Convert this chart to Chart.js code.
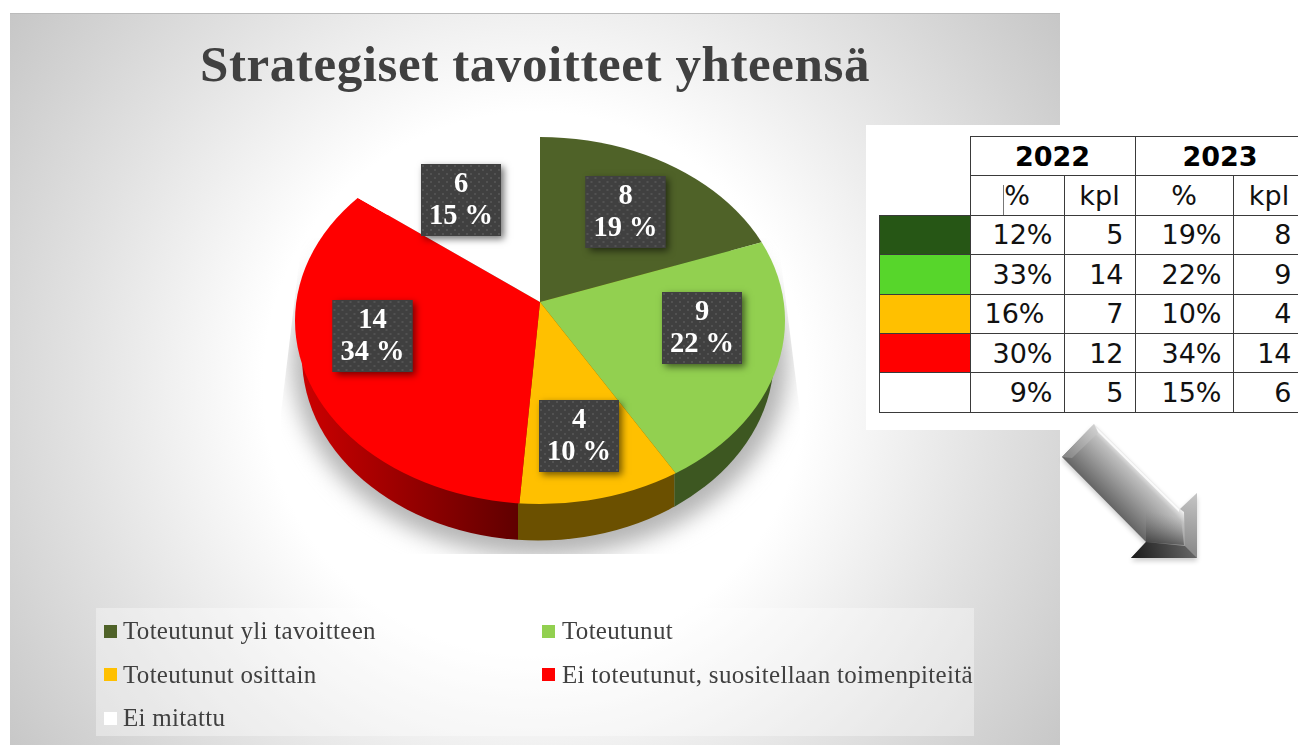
<!DOCTYPE html>
<html lang="fi">
<head>
<meta charset="utf-8">
<title>Strategiset tavoitteet yhteensä</title>
<script src="https://cdn.jsdelivr.net/npm/chart.js@4"></script>
<style>
html,body{margin:0;padding:0;background:#fff;width:1298px;height:745px;overflow:hidden}
#panel{position:absolute;left:10px;top:13px;width:1050px;height:732px;border-top:1px solid #bbb;box-sizing:border-box;
background:radial-gradient(circle 715px at 525px 370px,#fff 0%,#fff 38%,#e2e2e2 64%,#bcbcbc 100%)}
#pie{position:absolute;left:10px;top:13px;display:block}
#legend{position:absolute;left:96px;top:608px;width:878px;height:128px;background:rgba(255,255,255,.36);
font-family:"Liberation Serif",serif;font-size:25px;color:#404040}
.li{position:absolute;white-space:nowrap;line-height:28px;letter-spacing:.3px}
.sw{position:absolute;width:13px;height:13px}
#tblbox{position:absolute;left:866px;top:125px;width:432px;height:305px;background:#fff;overflow:hidden}
#tbl{position:absolute;left:12.5px;top:11px;border-collapse:collapse;table-layout:fixed;width:426px;
font-family:"DejaVu Sans",sans-serif;font-size:27px;color:#111}
#tbl td{border:1.5px solid #3a3a3a;padding:0;text-align:right;height:39.4px;box-sizing:border-box;overflow:hidden;white-space:nowrap}
#tbl td.n{border:none}
#tbl td.year{font-weight:bold;text-align:center;font-size:27px;color:#000}
#tbl td.unit{text-align:center}
#tbl td.v{padding-right:11px}
#tbl td.k{padding-right:11px}
#cursor{position:absolute;left:137px;top:60px;width:1px;height:30px;background:#777}
#arrow{position:absolute;left:1050px;top:415px}
</style>
</head>
<body>
<div id="panel"></div>
<canvas id="pie" width="1050" height="732"></canvas>
<div id="legend"></div>
<div id="tblbox"><table id="tbl"><colgroup><col style="width:91px"><col style="width:94px"><col style="width:71px"><col style="width:98px"><col style="width:72px"></colgroup><tbody id="tb"></tbody></table><div id="cursor"></div></div>
<svg id="arrow" width="170" height="165" viewBox="1050 415 170 165">
<defs>
<linearGradient id="body" gradientUnits="userSpaceOnUse" x1="1137" y1="465" x2="1104" y2="498">
<stop offset="0" stop-color="#f2f2f2"/><stop offset=".18" stop-color="#c0c0c0"/><stop offset=".6" stop-color="#939393"/><stop offset="1" stop-color="#676767"/></linearGradient>
<linearGradient id="endcap" gradientUnits="userSpaceOnUse" x1="1096" y1="428" x2="1068" y2="456">
<stop offset="0" stop-color="#cfcfcf"/><stop offset="1" stop-color="#8a8a8a"/></linearGradient>
<linearGradient id="headB" gradientUnits="userSpaceOnUse" x1="1135" y1="556" x2="1195" y2="540">
<stop offset="0" stop-color="#1e1e1e"/><stop offset="1" stop-color="#6a6a6a"/></linearGradient>
<linearGradient id="headM" gradientUnits="userSpaceOnUse" x1="1168" y1="515" x2="1160" y2="548">
<stop offset="0" stop-color="#8f8f8f" stop-opacity="0"/><stop offset="1" stop-color="#3e3e3e"/></linearGradient>
<linearGradient id="headR" gradientUnits="userSpaceOnUse" x1="1197" y1="495" x2="1186" y2="550">
<stop offset="0" stop-color="#c4c4c4"/><stop offset="1" stop-color="#8c8c8c"/></linearGradient>
<filter id="ash" x="-20%" y="-20%" width="140%" height="140%"><feGaussianBlur stdDeviation="2.5"/></filter>
</defs>
<polygon points="1094,427 1062,460 1146,545 1131,561 1197,561 1197,496 1180,512" fill="#000" opacity=".2" filter="url(#ash)"/>
<polygon points="1094,424 1062,457 1146,542 1131,558 1197,558 1197,493 1180,509" fill="url(#body)"/>
<polygon points="1094,424 1062,457 1072,458 1098,433" fill="url(#endcap)"/>
<polygon points="1096,427 1179,509 1179,512 1098,432" fill="#fdfdfd" opacity=".9"/>
<polygon points="1146,542 1184,545 1180,509 1146,510" fill="url(#headM)"/>
<polygon points="1197,493 1197,558 1185,546 1184,512 1180,509" fill="url(#headR)"/>
<polygon points="1131,558 1197,558 1185,546 1146,542" fill="url(#headB)"/>
</svg>
<script>
const categories = ["Toteutunut yli tavoitteen", "Toteutunut", "Toteutunut osittain", "Ei toteutunut, suositellaan toimenpiteitä", "Ei mitattu"];
const counts2023 = [8, 9, 4, 14, 6];
const percent2023 = [19, 22, 10, 34, 15];
const sliceColors = ["#4f6228", "#92d050", "#ffc000", "#ff0000", "#ffffff"];

const tableYears = ["2022", "2023"];
const tableUnits = ["%", "kpl"];
const tableSwatches = ["#265615", "#57d62b", "#ffc000", "#ff0000", "#ffffff"];
const table2022Pct = ["12%", "33%", "16%", "30%", "9%"];
const table2022Kpl = [5, 14, 7, 12, 5];
const table2023Pct = ["19%", "22%", "10%", "34%", "15%"];
const table2023Kpl = [8, 9, 4, 14, 6];

/* page-layout constants (canvas pixels) */
const APEX = {x: 530, y: 289};
const RIM = {cx: 530, cy: 307.5, rx: 245, ry: 183.5};
const WALL = {cx: 528, cy: 343.5, rx: 236, ry: 184};
const TILT = 0.75;
const LABEL_OFFSET = [[85.5, -90], [162, 26], [39, 134], [-167.5, 34], [-79, -102]];

/* table and legend, built from the arrays */
const tb = document.getElementById("tb");
let h = '<tr><td class="n"></td>' + tableYears.map(y => `<td class="year" colspan="2">${y}</td>`).join("") + "</tr>";
h += '<tr><td class="n"></td>' + tableYears.map(() => tableUnits.map(u => `<td class="unit">${u}</td>`).join("")).join("") + "</tr>";
tableSwatches.forEach((c, i) => {
  const shift = table2022Pct[i] === "16%" ? "padding-right:19px" : "";
  h += `<tr><td style="background:${c}"></td><td class="v" style="${shift}">${table2022Pct[i]}</td><td class="k">${table2022Kpl[i]}</td><td class="v">${table2023Pct[i]}</td><td class="k" style="text-align:right;padding-right:13px">${table2023Kpl[i]}</td></tr>`;
});
tb.innerHTML = h;

const leg = document.getElementById("legend");
categories.forEach((name, i) => {
  const col = i % 2, row = Math.floor(i / 2);
  const sx = col ? 446 : 8, tx = col ? 466 : 27, cy = 23 + row * 43.5;
  leg.insertAdjacentHTML("beforeend",
    `<span class="sw" style="left:${sx}px;top:${cy - 6.5}px;background:${sliceColors[i]}"></span><span class="li" style="left:${tx}px;top:${cy - 14}px">${name}</span>`);
});

/* helpers */
function rimX(angle) {
  const c = Math.cos(angle), s = TILT * Math.sin(angle), d = APEX.y - RIM.cy;
  const A = c * c / (RIM.rx * RIM.rx) + s * s / (RIM.ry * RIM.ry);
  const B = 2 * s * d / (RIM.ry * RIM.ry);
  const C = d * d / (RIM.ry * RIM.ry) - 1;
  const t = (-B + Math.sqrt(B * B - 4 * A * C)) / (2 * A);
  return APEX.x + t * c;
}
function shade(hex, f) {
  const n = parseInt(hex.slice(1), 16);
  return `rgb(${(n >> 16 & 255) * f | 0},${(n >> 8 & 255) * f | 0},${(n & 255) * f | 0})`;
}
function dotPattern(ctx) {
  const p = document.createElement("canvas");
  p.width = 8; p.height = 8;
  const g = p.getContext("2d");
  g.fillStyle = "#404040"; g.fillRect(0, 0, 8, 8);
  g.fillStyle = "#525252";
  g.fillRect(1, 1, 2, 2); g.fillRect(5, 5, 2, 2);
  return ctx.createPattern(p, "repeat");
}

const pie3d = {
  id: "pie3d",
  beforeDraw(chart) { chart.ctx.letterSpacing = "0.6px"; },
  beforeDatasetsDraw(chart) {
    const ctx = chart.ctx, arcs = chart.getDatasetMeta(0).data;
    ctx.letterSpacing = "0px";
    /* soft shadow under the pie */
    ctx.save();
    ctx.beginPath();
    ctx.moveTo(292, 225); ctx.lineTo(768, 225); ctx.lineTo(790, 400); ctx.lineTo(790, 541);
    ctx.lineTo(271, 541); ctx.lineTo(271, 400);
    ctx.closePath(); ctx.clip();
    ctx.filter = "blur(11px)";
    ctx.fillStyle = "#b4b4b4";
    ctx.beginPath();
    ctx.ellipse(WALL.cx + 2, WALL.cy + 4, WALL.rx + 12, WALL.ry + 12, 0, 0, 2 * Math.PI);
    ctx.fill();
    ctx.filter = "none";
    ctx.restore();
    /* side wall, one piece per lower slice */
    arcs.forEach((arc, i) => {
      const s = Math.max(arc.startAngle, 0), e = Math.min(arc.endAngle, Math.PI);
      if (e <= s) return;
      const xR = s === 0 ? 2000 : rimX(s) - 1.5;
      const xL = e === Math.PI ? -2000 : rimX(e) - 1.5;
      ctx.save();
      ctx.beginPath(); ctx.rect(xL, 0, xR - xL, 732); ctx.clip();
      if (xL < 0) {
        const g = ctx.createLinearGradient(WALL.cx - WALL.rx, 0, xR, 0);
        g.addColorStop(0, shade(sliceColors[i], .8));
        g.addColorStop(1, shade(sliceColors[i], .38));
        ctx.fillStyle = g;
      } else ctx.fillStyle = shade(sliceColors[i], .42);
      ctx.beginPath();
      ctx.ellipse(WALL.cx, WALL.cy, WALL.rx, WALL.ry, 0, 0, 2 * Math.PI);
      ctx.fill();
      ctx.restore();
    });
  },
  beforeDatasetDraw(chart) {
    const ctx = chart.ctx, a = chart.getDatasetMeta(0).data[0];
    ctx.save();
    ctx.beginPath();
    ctx.ellipse(RIM.cx, RIM.cy, RIM.rx, RIM.ry, 0, 0, 2 * Math.PI);
    ctx.clip();
    ctx.translate(APEX.x, APEX.y);
    ctx.scale(1, TILT);
    ctx.translate(-a.x, -a.y);
  },
  afterDatasetDraw(chart) { chart.ctx.restore(); },
  afterDatasetsDraw(chart) {
    const ctx = chart.ctx, pat = dotPattern(ctx);
    const vals = chart.data.datasets[0].data;
    vals.forEach((v, i) => {
      const cx = APEX.x + LABEL_OFFSET[i][0], cy = APEX.y + LABEL_OFFSET[i][1];
      const w = 80, hh = 72;
      ctx.save();
      ctx.shadowColor = "rgba(0,0,0,.55)";
      ctx.shadowBlur = 7; ctx.shadowOffsetX = 3; ctx.shadowOffsetY = 3;
      ctx.fillStyle = "#404040";
      ctx.fillRect(cx - w / 2, cy - hh / 2, w, hh);
      ctx.restore();
      ctx.save();
      ctx.translate(cx - w / 2, cy - hh / 2);
      ctx.fillStyle = pat;
      ctx.fillRect(0, 0, w, hh);
      ctx.fillStyle = "#fff";
      ctx.textAlign = "center"; ctx.textBaseline = "middle";
      ctx.font = 'bold 28.5px "Liberation Serif", serif';
      ctx.fillText(String(v), w / 2, 21);
      ctx.fillText(percent2023[i] + " %", w / 2, 53);
      ctx.restore();
    });
  }
};

new Chart(document.getElementById("pie"), {
  type: "pie",
  data: {
    labels: categories,
    datasets: [{data: counts2023, backgroundColor: sliceColors, borderWidth: 0}]
  },
  options: {
    responsive: false,
    animation: false,
    events: [],
    rotation: 0,
    layout: {padding: 0},
    plugins: {
      legend: {display: false},
      tooltip: {enabled: false},
      title: {
        display: true,
        text: "Strategiset tavoitteet yhteensä",
        color: "#404040",
        font: {family: '"Liberation Serif", serif', size: 51, weight: "bold"},
        padding: {top: 24, bottom: 10}
      }
    }
  },
  plugins: [pie3d]
});
</script>
</body>
</html>
